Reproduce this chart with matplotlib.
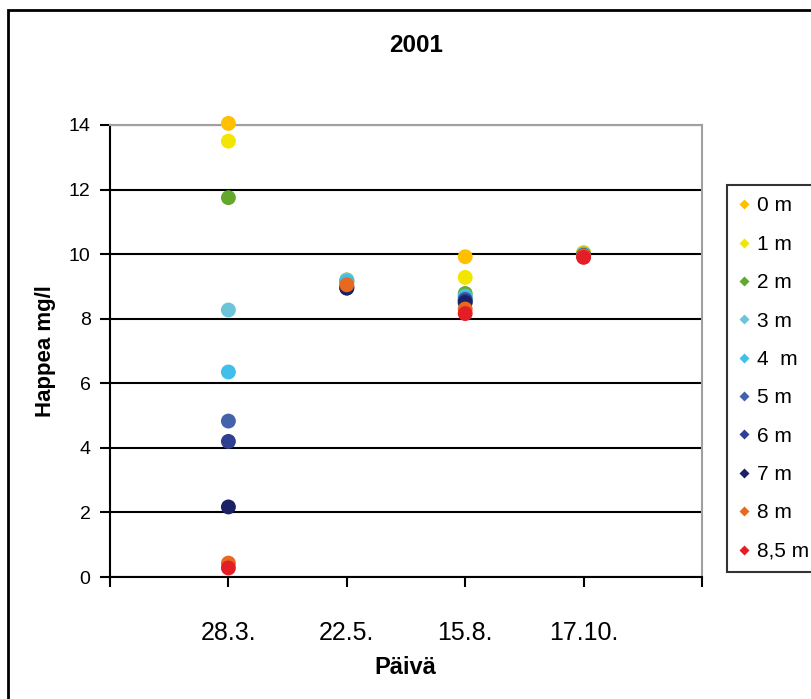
import numpy as np
import matplotlib.pyplot as plt
from matplotlib.lines import Line2D
from matplotlib.patches import Rectangle

plt.rcParams['font.family'] = ['Liberation Sans', 'DejaVu Sans']

# Näytepäivät ja syvyydet
paivat = ['28.3.', '22.5.', '15.8.', '17.10.']
syvyydet = ['0 m', '1 m', '2 m', '3 m', '4  m', '5 m', '6 m', '7 m', '8 m', '8,5 m']

# Happipitoisuus (mg/l) kullakin syvyydellä, järjestys: 28.3., 22.5., 15.8., 17.10.
happi_0m = [14.05, 9.2, 9.92, 10.05]
happi_1m = [13.5, 9.2, 9.28, 10.05]
happi_2m = [11.75, 9.15, 8.78, 10.0]
happi_3m = [8.27, 9.2, 8.7, 10.0]
happi_4m = [6.35, 9.15, 8.68, 10.0]
happi_5m = [4.83, 9.0, 8.6, 9.95]
happi_6m = [4.2, 8.95, 8.55, 9.95]
happi_7m = [2.17, 8.95, 8.5, 9.95]
happi_8m = [0.43, 9.05, 8.3, 9.95]
happi_85m = [0.28, np.nan, 8.16, 9.9]

sarjat = [happi_0m, happi_1m, happi_2m, happi_3m, happi_4m,
          happi_5m, happi_6m, happi_7m, happi_8m, happi_85m]
varit = ['#FFC000', '#F2E600', '#62A82A', '#6CC4D8', '#3FBFEA',
         '#4462AC', '#2E3F94', '#1A2164', '#E8681E', '#E41E26']

fig = plt.figure(figsize=(8.11, 6.99), dpi=100)
ax = fig.add_axes([110 / 811, 1 - 577 / 699, 592 / 811, 452 / 699])

x = np.arange(1, len(paivat) + 1)
for arvot, vari in zip(sarjat, varit):
    ax.scatter(x, arvot, s=115, color=vari, edgecolors='none', zorder=3, clip_on=False)

ax.set_xlim(0, 5)
ax.set_ylim(0, 14)
ax.set_xticks(range(0, 6))
ax.set_xticklabels([''] + paivat + [''])
ax.set_yticks(range(0, 15, 2))
ax.yaxis.grid(True, color='black', linewidth=1.5)
ax.set_axisbelow(True)

ax.tick_params(axis='x', direction='out', length=7, width=1.5, pad=25, labelsize=18)
ax.tick_params(axis='y', direction='out', length=7, width=1.5, pad=7, labelsize=14)
ax.spines['left'].set_linewidth(1.5)
ax.spines['bottom'].set_linewidth(1.5)
for s in ['top', 'right']:
    ax.spines[s].set_color('#a0a0a0')
    ax.spines[s].set_linewidth(1.5)

fig.text(416 / 811, 1 - 45 / 699, '2001', ha='center', va='center',
         fontsize=17.5, fontweight='bold')
fig.text(405 / 811, 1 - 668 / 699, 'Päivä', ha='center', va='center',
         fontsize=17, fontweight='bold')
fig.text(45 / 811, 1 - 351 / 699, 'Happea mg/l', ha='center', va='center',
         rotation=90, fontsize=16, fontweight='bold')

kahvat = [Line2D([], [], linestyle='none', marker='D', markersize=5.5,
                 color=v, markeredgecolor='none') for v in varit]
leg = fig.legend(kahvat, syvyydet, loc='upper left',
                 bbox_to_anchor=(727 / 811, 1 - 185 / 699),
                 fontsize=15, frameon=True, fancybox=False, borderpad=0.55,
                 labelspacing=0.93, handlelength=0.5, handletextpad=0.4,
                 borderaxespad=0)
leg.get_frame().set_edgecolor('black')
leg.get_frame().set_linewidth(1.5)

# Kaavion ulkoreunus
fig.patches.append(Rectangle((8 / 811, -0.1), 1.0, 1 - 10 / 699 + 0.1,
                             transform=fig.transFigure, fill=False,
                             edgecolor='black', linewidth=2))

plt.savefig('out.png', dpi=100)
